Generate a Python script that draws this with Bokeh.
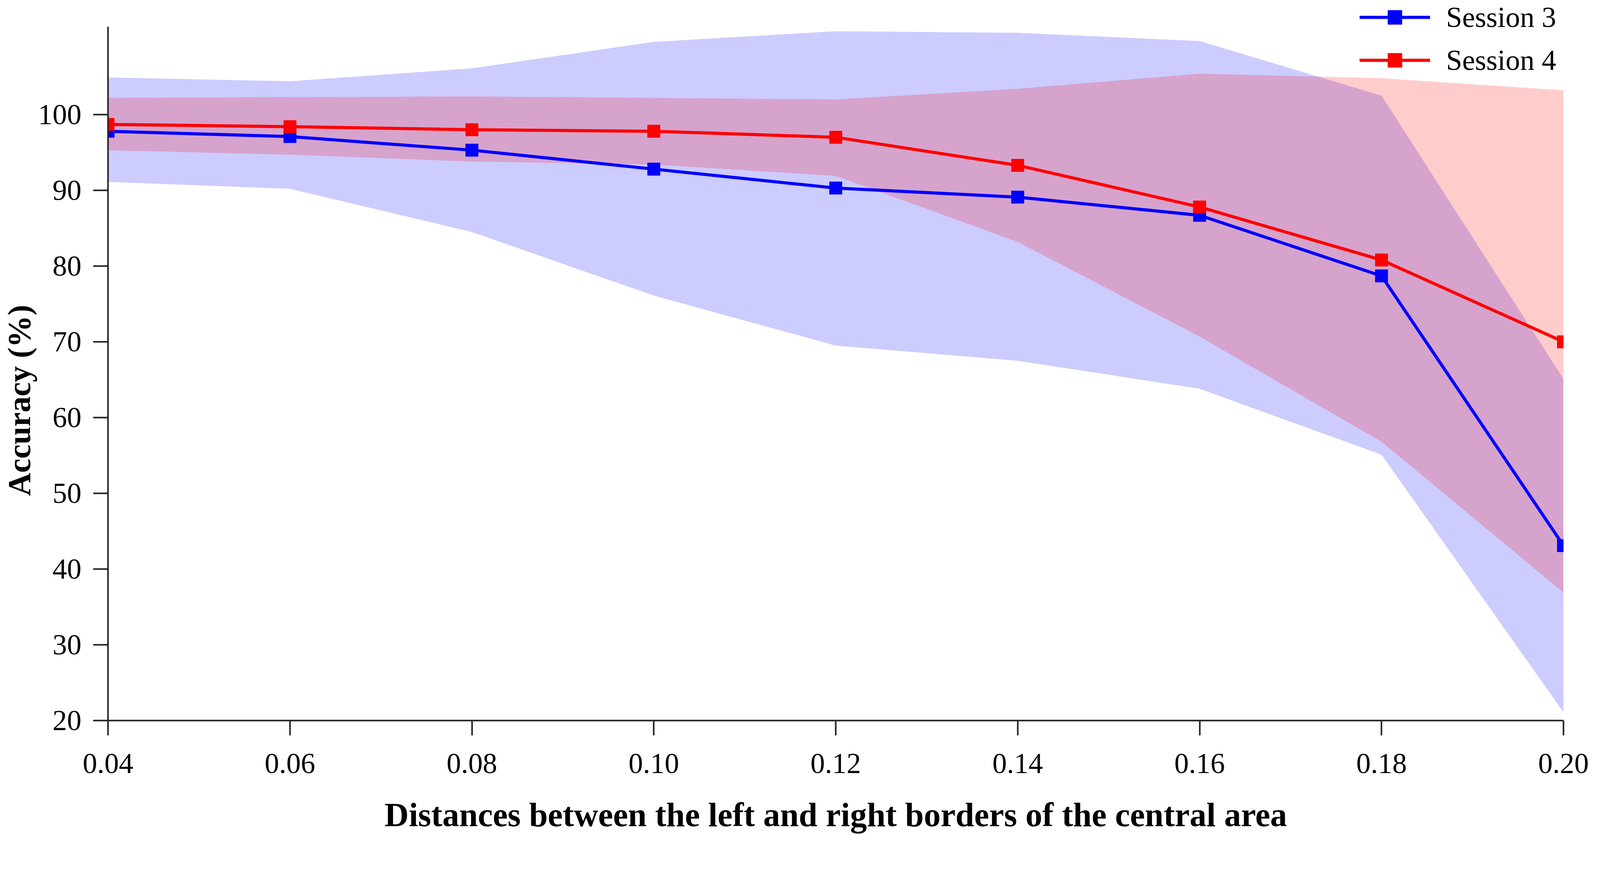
from bokeh.plotting import figure
from bokeh.models import Range1d, FixedTicker, PrintfTickFormatter, Legend, LegendItem
from bokeh.embed import file_html
from bokeh.resources import INLINE

# ---- data ----
distances = [0.04, 0.06, 0.08, 0.10, 0.12, 0.14, 0.16, 0.18, 0.20]

s3_mean = [97.8, 97.1, 95.3, 92.8, 90.3, 89.1, 86.7, 78.7, 43.1]
s3_upper = [104.9, 104.4, 106.1, 109.6, 111.0, 110.8, 109.7, 102.5, 65.1]
s3_lower = [91.1, 90.2, 84.5, 76.1, 69.5, 67.5, 63.8, 55.1, 21.1]

s4_mean = [98.7, 98.4, 98.0, 97.8, 97.0, 93.3, 87.8, 80.8, 70.0]
s4_upper = [102.2, 102.3, 102.4, 102.2, 102.0, 103.4, 105.4, 104.8, 103.2]
s4_lower = [95.3, 94.7, 93.8, 93.4, 91.9, 83.2, 70.7, 56.8, 36.9]

x_ticks = [0.04, 0.06, 0.08, 0.10, 0.12, 0.14, 0.16, 0.18, 0.20]
y_ticks = [20, 30, 40, 50, 60, 70, 80, 90, 100]
y_axis_top = 111.6   # where the drawn y-axis line ends

series_names = ["Session 3", "Session 4"]
x_label = "Distances between the left and right borders of the central area"
y_label = "Accuracy (%)"

SERIF = "Liberation Serif"
BLUE = "#0000FF"
RED = "#FF0000"

p = figure(width=4078, height=2138, output_backend="svg", toolbar_location=None,
           x_range=Range1d(0.04, 0.20), y_range=Range1d(20, 115.1),
           min_border_left=272, min_border_right=76, min_border_top=0, min_border_bottom=293)
p.outline_line_color = None
p.grid.visible = False
p.background_fill_color = "white"

# bands
p.varea(x=distances, y1=s3_lower, y2=s3_upper, fill_color=BLUE, fill_alpha=0.2)
p.varea(x=distances, y1=s4_lower, y2=s4_upper, fill_color=RED, fill_alpha=0.2)

# lines + markers
l3 = p.line(distances, s3_mean, line_color=BLUE, line_width=8)
m3 = p.scatter(distances, s3_mean, marker="square", size=32, fill_color=BLUE, line_color=BLUE)
l4 = p.line(distances, s4_mean, line_color=RED, line_width=8)
m4 = p.scatter(distances, s4_mean, marker="square", size=32, fill_color=RED, line_color=RED)

legend = Legend(items=[LegendItem(label=series_names[0], renderers=[l3, m3]),
                       LegendItem(label=series_names[1], renderers=[l4, m4])],
                location=(3204, 1646))
legend.label_text_font = SERIF
legend.label_text_font_size = "74px"
legend.label_text_color = "black"
legend.glyph_width = 181
legend.glyph_height = 90
legend.label_height = 90
legend.label_standoff = 41
legend.spacing = 20
legend.padding = 0
legend.margin = 0
legend.border_line_color = None
legend.background_fill_alpha = 0
p.add_layout(legend)

# axes
for ax in (p.xaxis[0], p.yaxis[0]):
    ax.axis_line_width = 4
    ax.axis_line_color = "#222222"
    ax.major_tick_line_width = 4
    ax.major_tick_line_color = "#222222"
    ax.major_tick_out = 38
    ax.major_tick_in = 0
    ax.minor_tick_line_color = None
    ax.major_label_text_font = SERIF
    ax.major_label_text_font_size = "74px"
    ax.major_label_text_color = "black"
    ax.axis_label_text_font = SERIF
    ax.axis_label_text_font_style = "bold"
    ax.axis_label_text_color = "black"

p.xaxis[0].ticker = FixedTicker(ticks=x_ticks)
p.xaxis[0].formatter = PrintfTickFormatter(format="%.2f")
p.xaxis[0].axis_label = x_label
p.xaxis[0].axis_label_text_font_size = "86px"
p.xaxis[0].major_label_standoff = 47
p.xaxis[0].axis_label_standoff = 56

p.yaxis[0].ticker = FixedTicker(ticks=y_ticks)
p.yaxis[0].bounds = (20, y_axis_top)
# trailing no-break spaces shift the centred label down, as in the reference
p.yaxis[0].axis_label = y_label + "\u00a0" * 10
p.yaxis[0].axis_label_text_font_size = "82px"
p.yaxis[0].major_label_standoff = 30
p.yaxis[0].axis_label_standoff = 0

open("out.html", "w").write(file_html(p, INLINE))
